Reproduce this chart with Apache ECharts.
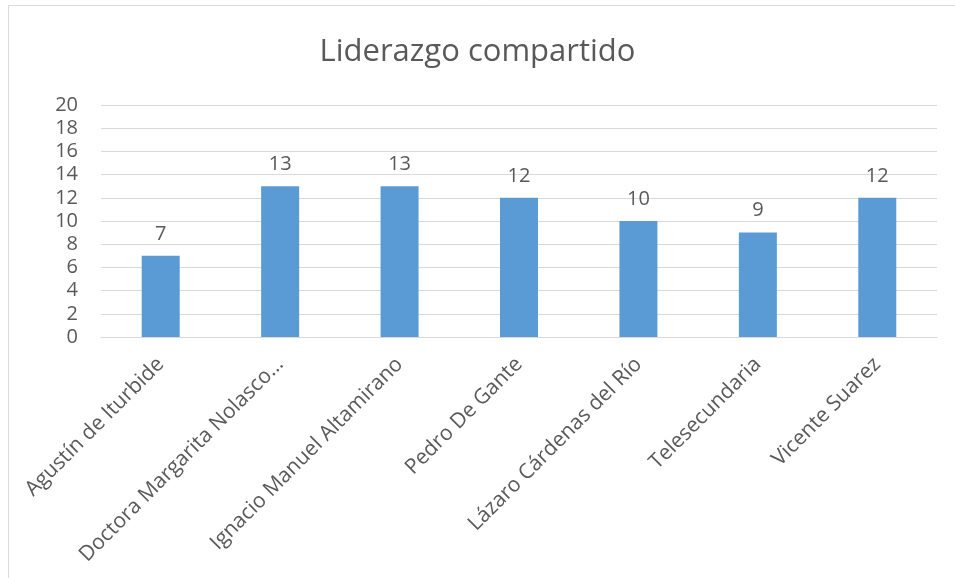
<!DOCTYPE html>
<html>
<head>
<meta charset="utf-8">
<script src="https://cdn.jsdelivr.net/npm/echarts@6/dist/echarts.min.js"></script>
<style>
  html, body { margin: 0; padding: 0; background: #fff; }
  #chart { width: 955px; height: 578px; }
</style>
</head>
<body>
<div id="chart"></div>
<script>
// datos
var escuelas = [
    'Agustín de Iturbide',
    'Doctora Margarita Nolasco…',
    'Ignacio Manuel Altamirano',
    'Pedro De Gante',
    'Lázaro Cárdenas del Río',
    'Telesecundaria',
    'Vicente Suarez'
];
var valores = [7, 13, 13, 12, 10, 9, 12];
var titulo = 'Liderazgo compartido';

var chart = echarts.init(document.getElementById('chart'));
var texto = '#595959';
var fuente = 'Open Sans';

var option = {
    animation: false,
    graphic: [{
        type: 'rect',
        left: 6,
        top: 3,
        shape: { width: 960, height: 590 },
        style: { fill: 'none', stroke: '#d9d9d9', lineWidth: 1 },
        silent: true
    }],
    title: {
        text: titulo,
        left: 'center',
        top: 32,
        textStyle: {
            fontFamily: fuente,
            fontWeight: 'normal',
            fontSize: 31,
            color: texto
        }
    },
    grid: {
        left: 101,
        right: 18,
        top: 105,
        bottom: 241
    },
    xAxis: {
        type: 'category',
        data: escuelas,
        axisLine: { lineStyle: { color: '#d9d9d9', width: 1 } },
        axisTick: { show: false },
        axisLabel: {
            rotate: 45,
            interval: 0,
            margin: 24,
            fontFamily: fuente,
            fontSize: 21,
            color: texto
        }
    },
    yAxis: {
        type: 'value',
        min: 0,
        max: 20,
        interval: 2,
        axisLine: { show: false },
        axisTick: { show: false },
        splitLine: { lineStyle: { color: '#d9d9d9', width: 1 } },
        axisLabel: {
            margin: 23,
            fontFamily: fuente,
            fontSize: 20,
            color: texto
        }
    },
    series: [{
        type: 'bar',
        data: valores,
        barWidth: 38,
        itemStyle: { color: '#5b9bd5' },
        label: {
            show: true,
            position: 'top',
            distance: 12,
            fontFamily: fuente,
            fontSize: 20,
            color: texto
        }
    }]
};
chart.setOption(option);
</script>
</body>
</html>
